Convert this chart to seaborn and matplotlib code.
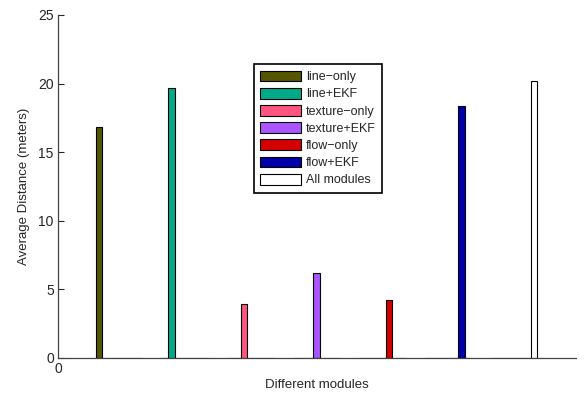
import pandas as pd
import matplotlib
matplotlib.use('Agg')
import matplotlib.pyplot as plt
import seaborn as sns
from matplotlib.patches import Patch

sns.set_style('white')
plt.rcParams['font.family'] = ['Liberation Sans', 'DejaVu Sans']

# 数据
modules = ['line\u2212only', 'line+EKF', 'texture\u2212only', 'texture+EKF',
           'flow\u2212only', 'flow+EKF', 'All modules']
distances = [16.8, 19.7, 3.9, 6.2, 4.2, 18.35, 20.2]
colors = ['#555500', '#00aa88', '#ff5580', '#aa55ff', '#d40000', '#0000aa', '#ffffff']

# 每组 7 根柱，只有对角线上有值（与 MATLAB bar(diag(...)) 一样）
rows = []
for i, g in enumerate(modules):
    for j, m in enumerate(modules):
        rows.append({'group': g, 'module': m, 'value': distances[i] if i == j else 0.0})
df = pd.DataFrame(rows)

fig = plt.figure(figsize=(5.85, 3.93), dpi=100)
ax = fig.add_axes([58 / 585, 35.3 / 393, 518 / 585, 342.7 / 393])

sns.barplot(data=df, x='group', y='value', hue='module', order=modules,
            hue_order=modules, palette=colors, width=0.7, saturation=1,
            edgecolor='black', linewidth=0.8, legend=False, ax=ax)

ax.set_xlim(-0.922, 6.937)
ax.set_ylim(0, 25)
ax.set_yticks([0, 5, 10, 15, 20, 25])
ax.set_xticks([-0.922])
ax.set_xticklabels(['0'])
ax.tick_params(axis='y', direction='in', length=4, width=0.8, labelsize=10, pad=3, left=True)
ax.tick_params(axis='x', length=0, labelsize=10, pad=3)
for s in ['top', 'right']:
    ax.spines[s].set_visible(False)
for s in ['left', 'bottom']:
    ax.spines[s].set_color('#444444')
    ax.spines[s].set_linewidth(0.9)

ax.set_xlabel('Different modules', fontsize=9.5, labelpad=2)
ax.set_ylabel('Average Distance (meters)', fontsize=9.5, labelpad=6)

handles = [Patch(facecolor=c, edgecolor='black', linewidth=0.8) for c in colors]
leg = ax.legend(handles, modules, loc='upper left', bbox_to_anchor=(0.378, 0.856),
                fontsize=9, handlelength=3.3, handleheight=0.95, handletextpad=0.35,
                labelspacing=0.36, borderpad=0.5, borderaxespad=0, fancybox=False,
                framealpha=1, edgecolor='black')
leg.get_frame().set_linewidth(1.2)

fig.savefig('out.png', dpi=100)
